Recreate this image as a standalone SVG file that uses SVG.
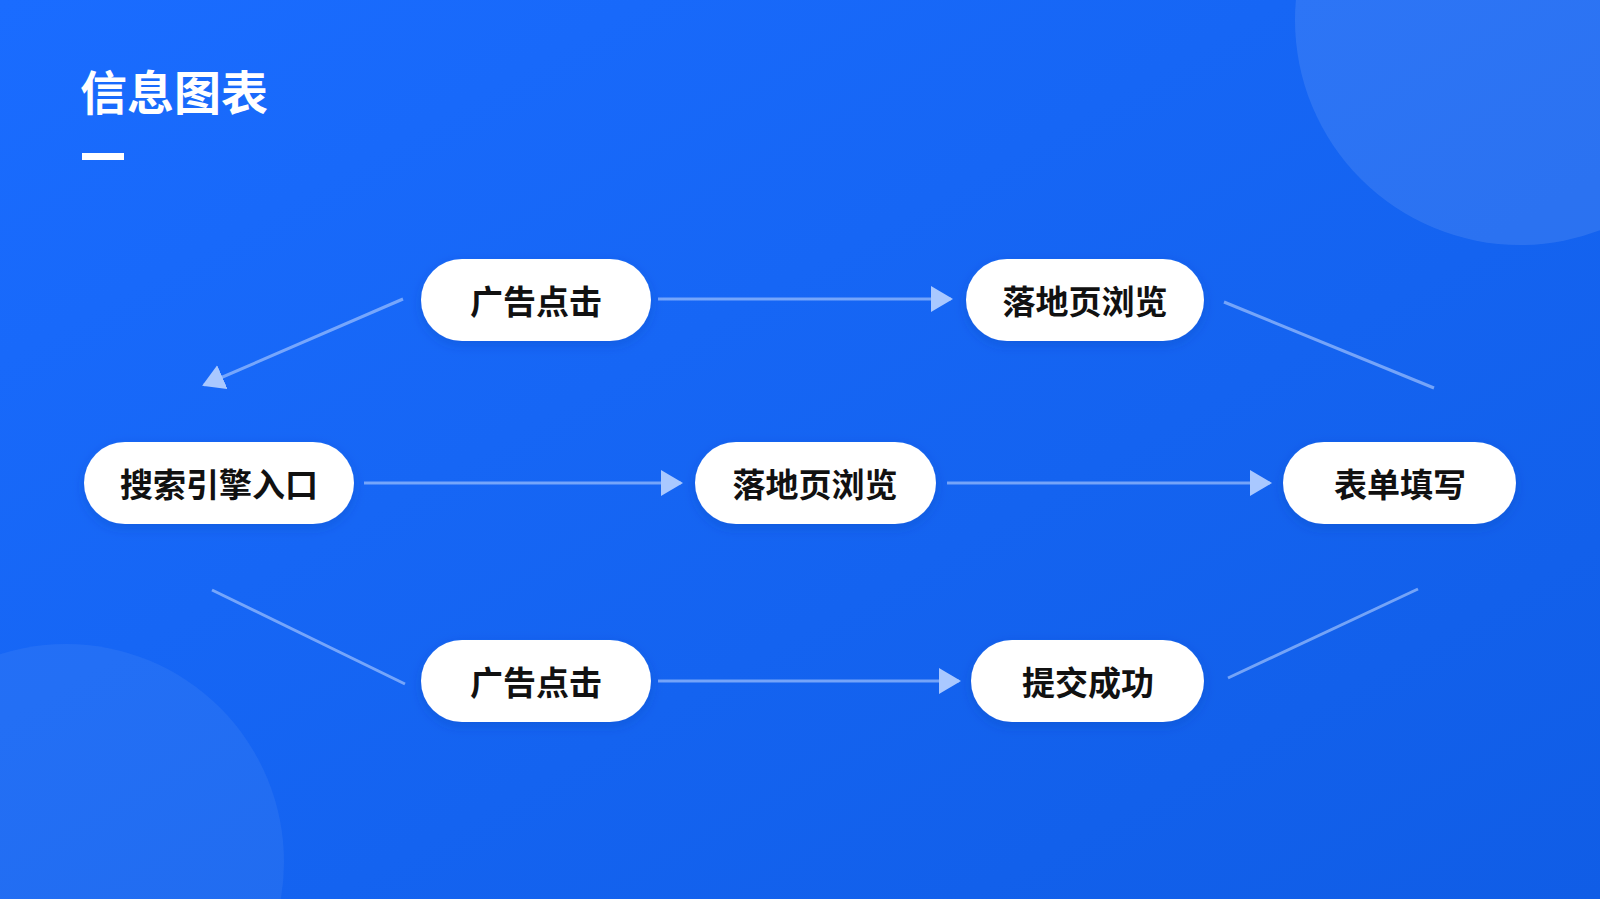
<svg xmlns="http://www.w3.org/2000/svg" width="1600" height="899" viewBox="0 0 1600 899">
<defs>
<linearGradient id="bg" x1="0" y1="0" x2="1" y2="1"><stop offset="0" stop-color="#1a6cff"/><stop offset="1" stop-color="#105de6"/></linearGradient>
<linearGradient id="lg" x1="0" y1="0" x2="1" y2="0"><stop offset="0" stop-color="#ffffff" stop-opacity="0.15"/><stop offset="1" stop-color="#ffffff" stop-opacity="0.6"/></linearGradient>
<marker id="ah" markerWidth="10" markerHeight="10" refX="8" refY="5" orient="auto" markerUnits="userSpaceOnUse" viewBox="0 0 10 10"><path d="M0,0 L10,5 L0,10 z" fill="#a9c8ff"/></marker>
<marker id="ah2" markerWidth="22" markerHeight="26" refX="20" refY="13" orient="auto" markerUnits="userSpaceOnUse"><path d="M0,0 L22,13 L0,26 z" fill="#a9c8ff"/></marker>
<filter id="sh" x="-20%" y="-30%" width="140%" height="160%"><feDropShadow dx="0" dy="4" stdDeviation="6" flood-color="#003a9e" flood-opacity="0.25"/></filter>
</defs>
<style>
.n rect{fill:#fff;filter:url(#sh)}
.n text{font-family:"Noto Sans CJK SC","Noto Sans",sans-serif;font-weight:700;font-size:33px;fill:#111;text-anchor:middle;dominant-baseline:central}
.c line{stroke:#b5d0ff;stroke-opacity:0.6;stroke-width:3}
</style>
<rect width="1600" height="899" fill="url(#bg)"/>
<circle cx="1520" cy="20" r="225" fill="#ffffff" fill-opacity="0.1"/>
<circle cx="66" cy="862" r="218" fill="#ffffff" fill-opacity="0.06"/>
<text x="80" y="110" font-family="Noto Sans CJK SC,sans-serif" font-weight="700" font-size="47" fill="#fff">信息图表</text>
<rect x="82" y="153" width="42" height="7" fill="#fff"/>
<g class="c">
<line x1="658" y1="299" x2="951" y2="299" marker-end="url(#ah2)"/>
<line x1="403" y1="299" x2="204" y2="385" marker-end="url(#ah2)"/>
<line x1="364" y1="483" x2="681" y2="483" marker-end="url(#ah2)"/>
<line x1="947" y1="483" x2="1270" y2="483" marker-end="url(#ah2)"/>
<line x1="658" y1="681" x2="959" y2="681" marker-end="url(#ah2)"/>
<line x1="1224" y1="302" x2="1434" y2="388"/>
<line x1="212" y1="590" x2="405" y2="684"/>
<line x1="1228" y1="678" x2="1418" y2="589"/>
</g>
<g id="n1" class="n"><rect x="421" y="259" width="230" height="82" rx="41"/><text x="536" y="300">广告点击</text></g>
<g id="n2" class="n"><rect x="966" y="259" width="238" height="82" rx="41"/><text x="1085" y="300">落地页浏览</text></g>
<g id="n3" class="n"><rect x="84" y="442" width="270" height="82" rx="41"/><text x="219" y="483">搜索引擎入口</text></g>
<g id="n4" class="n"><rect x="695" y="442" width="241" height="82" rx="41"/><text x="815" y="483">落地页浏览</text></g>
<g id="n5" class="n"><rect x="1283" y="442" width="233" height="82" rx="41"/><text x="1400" y="483">表单填写</text></g>
<g id="n6" class="n"><rect x="421" y="640" width="230" height="82" rx="41"/><text x="536" y="681">广告点击</text></g>
<g id="n7" class="n"><rect x="971" y="640" width="233" height="82" rx="41"/><text x="1088" y="681">提交成功</text></g>
</svg>
